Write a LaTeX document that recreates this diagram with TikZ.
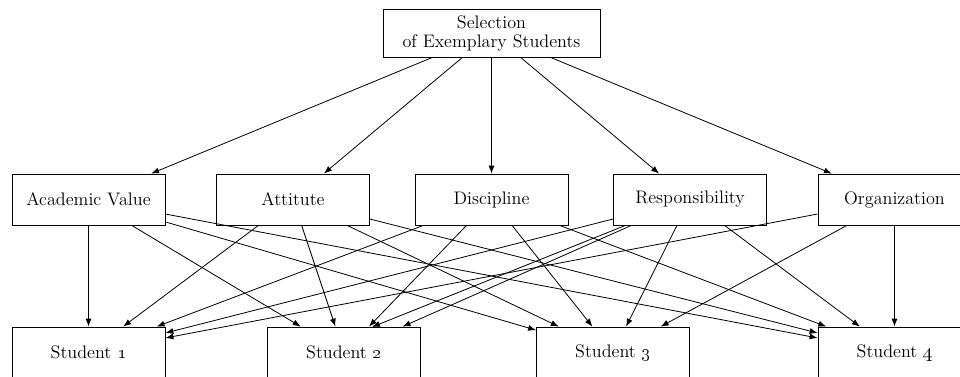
\documentclass[tikz,border=0pt]{standalone}
\usepackage{tikz}
\usetikzlibrary{arrows.meta}

\begin{document}
\begin{tikzpicture}[
        x = 0.75pt,
        y = -0.75pt,
        >= {Latex[length=6pt,width=4.5pt]},
        line width = 0.6pt,
        box/.style = {draw, inner sep=0pt, minimum width=114.75pt, minimum height=38.25pt,
            font=\fontsize{13.6}{14.25}\selectfont}
    ]
        \useasboundingbox (0,0) rectangle (960,376);
        \clip (0,0) rectangle (960,376);
        \node [box, minimum width=162.75pt, minimum height=36pt, align=center] (sel) at (491.5,33) {Selection\\of Exemplary Students};
        \node [box] (acad) at (88.5,199.5) {Academic Value};
        \node [box] (att) at (293,199.5) {Attitute};
        \node [box] (disc) at (491.5,199.5) {Discipline};
        \node [box] (resp) at (690,199.5) {Responsibility};
        \node [box] (org) at (894.5,199.5) {Organization};
        \node [box] (s1) at (88.5,352.5) {Student \oldstylenums{1}};
        \node [box] (s2) at (344,352.5) {Student \oldstylenums{2}};
        \node [box] (s3) at (613,352.5) {Student \oldstylenums{3}};
        \node [box] (s4) at (894.5,352.5) {Student \oldstylenums{4}};
        \coordinate (s2in) at (372,327);
        \draw [->] (sel)--(acad);
        \draw [->] (sel)--(att);
        \draw [->] (sel)--(disc);
        \draw [->] (sel)--(resp);
        \draw [->] (sel)--(org);
        \draw [->] (acad)--(s1);
        \draw [->] (acad)--(s2);
        \draw [->] (acad)--(s3);
        \draw [->] (acad)--(s4);
        \draw [->] (att)--(s1);
        \draw [->] (att)--(s2);
        \draw [->] (att)--(s3);
        \draw [->] (att)--(s4);
        \draw [->] (disc)--(s1);
        \draw [->] (disc)--(s2);
        \draw [->] (disc)--(s3);
        \draw [->] (disc)--(s4);
        \draw [->] (resp)--(s1);
        \draw [->] (resp)--(s2);
        \draw [->] (resp)--(s2in);
        \draw [->] (resp)--(s3);
        \draw [->] (resp)--(s4);
        \draw [->] (org)--(s1);
        \draw [->] (org)--(s3);
        \draw [->] (org)--(s4);
        \end{tikzpicture}
\end{document}
